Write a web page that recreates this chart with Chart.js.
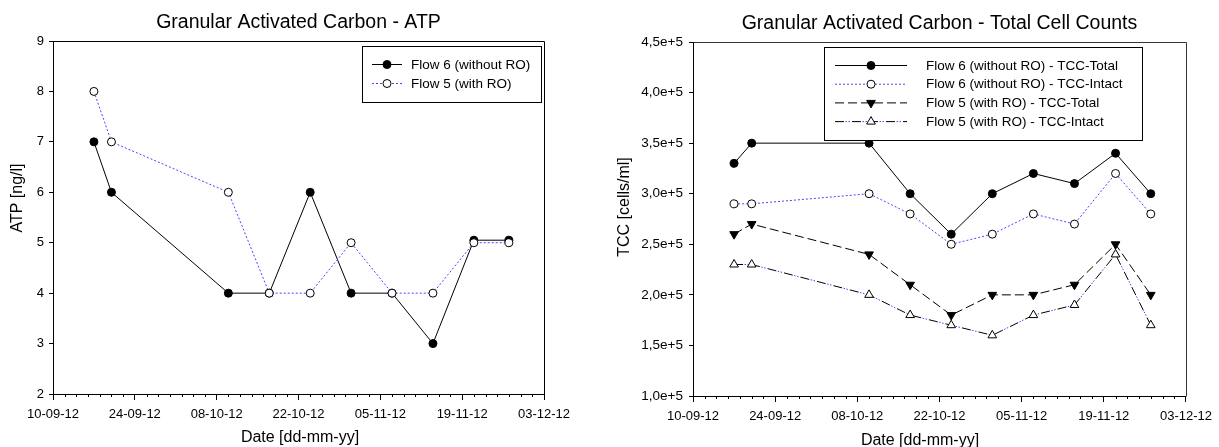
<!DOCTYPE html>
<html>
<head>
<meta charset="utf-8">
<script src="https://cdn.jsdelivr.net/npm/chart.js@4"></script>
<style>
  html, body { margin: 0; padding: 0; background: #fff; }
  #wrap { position: relative; width: 1219px; height: 447px; overflow: hidden; }
  canvas { position: absolute; top: 0; }
  #atpChart { left: 0; }
  #tccChart { left: 610px; }
</style>
</head>
<body>
<div id="wrap">
  <canvas id="atpChart" width="610" height="447"></canvas>
  <canvas id="tccChart" width="609" height="447"></canvas>
</div>
<script>
'use strict';

// x axis runs from 10-09-12 for 84 days, a label every 14 days
let axisStart = '10-09-12';
let axisDays = 84;
let sampleDates = ['17-09-12', '20-09-12', '10-10-12', '17-10-12', '24-10-12', '31-10-12', '07-11-12', '14-11-12', '21-11-12', '27-11-12'];

let atpFlow6 = [7, 6, 4, 4, 6, 4, 4, 3, 5.05, 5.05];
let atpFlow5 = [8, 7, 6, 4, 4, 5, 4, 4, 5, 5];

let tccFlow6Total = [330000, 350000, 350000, 300000, 260000, 300000, 320000, 310000, 340000, 300000];
let tccFlow6Intact = [290000, 290000, 300000, 280000, 250000, 260000, 280000, 270000, 320000, 280000];
let tccFlow5Total = [260000, 270000, 240000, 210000, 180000, 200000, 200000, 210000, 250000, 200000];
let tccFlow5Intact = [230000, 230000, 200000, 180000, 170000, 160000, 180000, 190000, 240000, 170000];

let FONT = '"Liberation Sans", Arial, sans-serif';
let BLUE = '#4646ff';

function parseDate(s) {
    let p = s.split('-');
    return new Date(2000 + Number(p[2]), Number(p[1]) - 1, Number(p[0]));
}

let day0 = parseDate(axisStart);

function dayOf(s) {
    return Math.round((parseDate(s) - day0) / 86400000);
}

function dateLabel(v) {
    let d = new Date(day0.getFullYear(), day0.getMonth(), day0.getDate() + v);
    let dd = String(d.getDate()).padStart(2, '0');
    let mm = String(d.getMonth() + 1).padStart(2, '0');
    let yy = String(d.getFullYear() % 100).padStart(2, '0');
    return `${dd}-${mm}-${yy}`;
}

function toPoints(values) {
    return values.map((v, i) => ({ x: dayOf(sampleDates[i]), y: v }));
}

// frame, titles, minor ticks and a boxed legend inside the plot
let decorations = {
    id: 'decorations',
    afterDraw(chart, args, opts) {
        let ctx = chart.ctx;
        let a = chart.chartArea;
        ctx.save();

        // box around the plot
        ctx.strokeStyle = opts.frameColor;
        ctx.lineWidth = 1;
        ctx.beginPath();
        ctx.moveTo(Math.round(a.left) + 0.5, Math.round(a.top) + 0.5);
        ctx.lineTo(Math.round(a.right) + 0.5, Math.round(a.top) + 0.5);
        ctx.lineTo(Math.round(a.right) + 0.5, Math.round(a.bottom) + 0.5);
        ctx.stroke();

        // minor ticks every 2 days
        let xs = chart.scales.x;
        ctx.strokeStyle = '#000';
        ctx.beginPath();
        for (let d = 0; d <= axisDays; d += 2) {
            if (d % 14 === 0) continue;
            let px = Math.round(xs.getPixelForValue(d)) + 0.5;
            ctx.moveTo(px, Math.round(a.bottom));
            ctx.lineTo(px, Math.round(a.bottom) + 3);
        }
        ctx.stroke();

        // chart title centred over the plot
        ctx.fillStyle = '#000';
        ctx.font = '19.5px ' + FONT;
        ctx.textAlign = 'center';
        ctx.textBaseline = 'middle';
        ctx.fillText(opts.title, (a.left + a.right) / 2, opts.titleY);

        // axis titles
        ctx.font = '16px ' + FONT;
        ctx.fillText(opts.xTitle.text, opts.xTitle.x, opts.xTitle.y);
        ctx.save();
        ctx.translate(opts.yTitle.x, opts.yTitle.y);
        ctx.rotate(-Math.PI / 2);
        ctx.fillText(opts.yTitle.text, 0, 0);
        ctx.restore();

        // legend
        let lg = opts.legend;
        ctx.fillStyle = '#fff';
        ctx.fillRect(lg.x, lg.y, lg.w, lg.h);
        ctx.strokeStyle = '#000';
        ctx.strokeRect(lg.x + 0.5, lg.y + 0.5, lg.w, lg.h);
        ctx.font = '13.5px ' + FONT;
        ctx.textAlign = 'left';
        lg.items.forEach((item, i) => {
            let y = lg.rowY + i * lg.rowGap;
            item.sets.forEach(idx => {
                let ds = chart.data.datasets[idx];
                ctx.save();
                ctx.strokeStyle = ds.borderColor;
                ctx.lineWidth = ds.borderWidth;
                ctx.setLineDash(ds.borderDash || []);
                ctx.lineDashOffset = ds.borderDashOffset || 0;
                ctx.beginPath();
                ctx.moveTo(lg.lineX0, y + 0.5);
                ctx.lineTo(lg.lineX1, y + 0.5);
                ctx.stroke();
                ctx.restore();
            });
            let ds = chart.data.datasets[item.sets[0]];
            ctx.fillStyle = ds.pointBackgroundColor;
            ctx.strokeStyle = ds.pointBorderColor;
            ctx.lineWidth = 1;
            Chart.helpers.drawPoint(ctx, {
                pointStyle: ds.pointStyle,
                radius: ds.pointRadius,
                rotation: ds.pointRotation || 0,
                borderWidth: 1
            }, (lg.lineX0 + lg.lineX1) / 2, y + 0.5);
            ctx.fillStyle = '#000';
            ctx.fillText(item.label, lg.textX, y + 1);
        });

        ctx.restore();
    }
};

function xScale(boxHeight) {
    return {
        type: 'linear',
        min: 0,
        max: axisDays,
        afterFit: s => { s.height = boxHeight; },
        grid: { drawOnChartArea: false, tickLength: 6, color: '#000' },
        border: { color: '#000' },
        ticks: {
            stepSize: 14,
            autoSkip: false,
            maxRotation: 0,
            padding: 7,
            color: '#000',
            font: { family: FONT, size: 13 },
            callback: v => dateLabel(v)
        }
    };
}

function yScale(width, opts) {
    return Object.assign({
        afterFit: s => { s.width = width; },
        grid: { drawOnChartArea: false, tickLength: 4, color: '#000' },
        border: { color: '#000' }
    }, opts);
}

function lineSet(label, values, style) {
    return Object.assign({
        label: label,
        data: toPoints(values),
        borderWidth: 1,
        pointRadius: 4,
        pointHoverRadius: 4,
        pointBorderWidth: 1,
        pointBorderColor: '#000',
        tension: 0,
        fill: false
    }, style);
}

new Chart(document.getElementById('atpChart').getContext('2d'), {
    type: 'line',
    data: {
        datasets: [
            lineSet('Flow 6 (without RO)', atpFlow6, {
                borderColor: '#000', pointBackgroundColor: '#000', pointStyle: 'circle', order: 2
            }),
            lineSet('Flow 5 (with RO)', atpFlow5, {
                borderColor: BLUE, borderDash: [2, 2], pointBackgroundColor: '#fff', pointStyle: 'circle', order: 1
            })
        ]
    },
    options: {
        responsive: false,
        animation: false,
        layout: { padding: { top: 41, right: 66, left: 0, bottom: 0 } },
        plugins: {
            legend: { display: false },
            tooltip: { enabled: false },
            decorations: {
                frameColor: '#000',
                title: 'Granular Activated Carbon - ATP',
                titleY: 23,
                xTitle: { text: 'Date [dd-mm-yy]', x: 300, y: 438 },
                yTitle: { text: 'ATP [ng/l]', x: 18, y: 198 },
                legend: {
                    x: 362, y: 46, w: 179, h: 56,
                    lineX0: 372, lineX1: 402, textX: 411, rowY: 64, rowGap: 19,
                    items: [
                        { label: 'Flow 6 (without RO)', sets: [0] },
                        { label: 'Flow 5 (with RO)', sets: [1] }
                    ]
                }
            }
        },
        scales: {
            x: xScale(53),
            y: yScale(53, {
                min: 2,
                max: 9,
                ticks: { stepSize: 1, padding: 5, color: '#000', font: { family: FONT, size: 13 } }
            })
        }
    },
    plugins: [decorations]
});

new Chart(document.getElementById('tccChart').getContext('2d'), {
    type: 'line',
    data: {
        datasets: [
            lineSet('Flow 6 (without RO) - TCC-Total', tccFlow6Total, {
                borderColor: '#000', pointBackgroundColor: '#000', pointStyle: 'circle', order: 5
            }),
            lineSet('Flow 6 (without RO) - TCC-Intact', tccFlow6Intact, {
                borderColor: BLUE, borderDash: [2, 2], pointBackgroundColor: '#fff', pointStyle: 'circle', order: 4
            }),
            lineSet('Flow 5 (with RO) - TCC-Total', tccFlow5Total, {
                borderColor: '#000', borderDash: [9, 4], pointBackgroundColor: '#000',
                pointStyle: 'triangle', pointRotation: 180, pointRadius: 5, order: 3
            }),
            lineSet('Flow 5 (with RO) - TCC-Intact', tccFlow5Intact, {
                borderColor: '#000', borderDash: [9, 8], pointBackgroundColor: '#fff',
                pointStyle: 'triangle', pointRadius: 5, order: 1
            }),
            lineSet('Flow 5 (with RO) - TCC-Intact dots', tccFlow5Intact, {
                borderColor: BLUE, borderDash: [1.5, 1.5, 1.5, 12.5], borderDashOffset: 6.5,
                pointRadius: 0, pointHoverRadius: 0, order: 2
            })
        ]
    },
    options: {
        responsive: false,
        animation: false,
        layout: { padding: { top: 42, right: 32, left: 0, bottom: 0 } },
        plugins: {
            legend: { display: false },
            tooltip: { enabled: false },
            decorations: {
                frameColor: '#333',
                title: 'Granular Activated Carbon - Total Cell Counts',
                titleY: 24,
                xTitle: { text: 'Date [dd-mm-yy]', x: 310, y: 441 },
                yTitle: { text: 'TCC [cells/ml]', x: 15, y: 207 },
                legend: {
                    x: 214, y: 47, w: 318, h: 93,
                    lineX0: 225, lineX1: 297, textX: 316, rowY: 65, rowGap: 18.7,
                    items: [
                        { label: 'Flow 6 (without RO) - TCC-Total', sets: [0] },
                        { label: 'Flow 6 (without RO) - TCC-Intact', sets: [1] },
                        { label: 'Flow 5 (with RO) - TCC-Total', sets: [2] },
                        { label: 'Flow 5 (with RO) - TCC-Intact', sets: [3, 4] }
                    ]
                }
            }
        },
        scales: {
            x: xScale(51),
            y: yScale(83, {
                min: 100000,
                max: 450000,
                ticks: {
                    stepSize: 50000,
                    padding: 6,
                    color: '#000',
                    font: { family: FONT, size: 13.5 },
                    callback: v => (v / 100000).toFixed(1).replace('.', ',') + 'e+5'
                }
            })
        }
    },
    plugins: [decorations]
});
</script>
</body>
</html>
